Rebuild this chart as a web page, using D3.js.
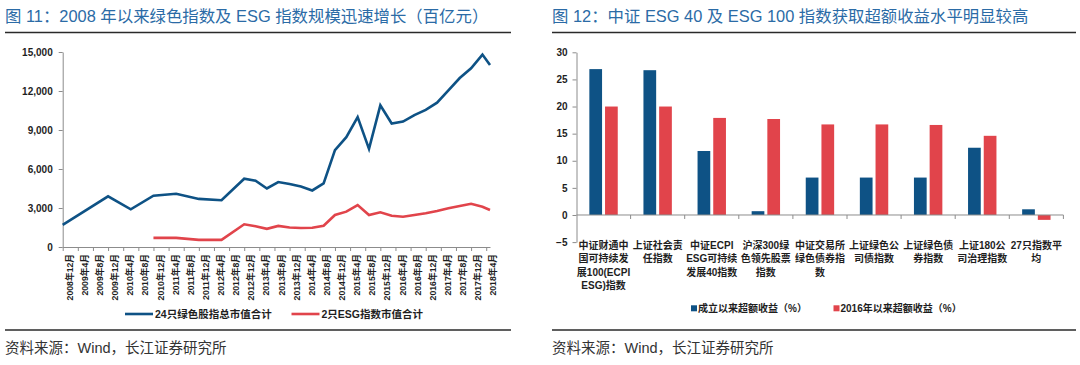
<!DOCTYPE html>
<html><head><meta charset="utf-8">
<script src="https://cdn.jsdelivr.net/npm/d3@7"></script>
<style>
body{margin:0;background:#fff}
svg{display:block}
text{font-family:"Liberation Sans","Noto Sans CJK SC",sans-serif}
</style>
</head><body><svg id="c" width="1080" height="365"></svg>
<script>
// ---------- Left chart data (百亿元) ----------
const dates = ["2008-12","2009-12","2010-06","2010-12","2011-06","2011-12","2012-06","2012-12",
  "2013-03","2013-06","2013-09","2013-12","2014-03","2014-06","2014-09","2014-12",
  "2015-03","2015-06","2015-09","2015-12","2016-03","2016-06","2016-09","2016-12",
  "2017-03","2017-06","2017-09","2017-12","2018-03","2018-05"];
const greenTotal = [1700,3900,2900,3950,4100,3700,3600,5250,5100,4500,5000,4850,4650,4350,4900,7450,
  8450,10000,7550,10900,9500,9650,10150,10550,11100,12050,13000,13750,14800,14000];
const esgTotal = [null,null,null,700,700,550,550,1750,1600,1400,1620,1500,1460,1480,1640,2460,
  2720,3230,2460,2670,2410,2330,2460,2590,2770,2980,3150,3330,3100,2850];
const xTickLabels = ["2008年12月","2009年4月","2009年8月","2009年12月","2010年4月","2010年8月","2010年12月",
  "2011年4月","2011年8月","2011年12月","2012年4月","2012年8月","2012年12月","2013年4月","2013年8月",
  "2013年12月","2014年4月","2014年8月","2014年12月","2015年4月","2015年8月","2015年12月","2016年4月",
  "2016年8月","2016年12月","2017年4月","2017年8月","2017年12月","2018年4月"];
const yTicksLeft = [0,3000,6000,9000,12000,15000];
const leftSeriesNames = ["24只绿色股指总市值合计","2只ESG指数市值合计"];

// ---------- Right chart data (%) ----------
const barCategories = [
  ["中证财通中","国可持续发","展100(ECPI","ESG)指数"],
  ["上证社会责","任指数"],
  ["中证ECPI","ESG可持续","发展40指数"],
  ["沪深300绿","色领先股票","指数"],
  ["中证交易所","绿色债券指","数"],
  ["上证绿色公","司债指数"],
  ["上证绿色债","券指数"],
  ["上证180公","司治理指数"],
  ["27只指数平","均"]];
const sinceInception = [26.9,26.7,11.8,0.7,6.9,6.9,6.9,12.4,1.05];
const since2016 = [20.0,20.0,17.9,17.7,16.7,16.7,16.6,14.6,-0.9];
const yTicksRight = [-5,0,5,10,15,20,25,30];
const rightSeriesNames = ["成立以来超额收益（%）","2016年以来超额收益（%）"];

const BLUE = "#0e5285", RED = "#e1444b", AXIS = "#8c8c8c", TXT = "#1e1e1e";
const svg = d3.select("#c");
svg.append("rect").attr("width",1080).attr("height",365).attr("fill","#fff");

// ---------- Titles / rules / sources ----------
const titles = [
  {x:5, text:"图 11：2008 年以来绿色指数及 ESG 指数规模迅速增长（百亿元）", r:[5,511]},
  {x:552, text:"图 12：中证 ESG 40 及 ESG 100 指数获取超额收益水平明显较高", r:[552,1076]}];
titles.forEach(t=>{
  svg.append("text").attr("x",t.x).attr("y",22).attr("fill","#2b6ba6")
    .style("font-size","16.4px").text(t.text);
  svg.append("line").attr("x1",t.r[0]).attr("x2",t.r[1]).attr("y1",32.5).attr("y2",32.5)
    .attr("stroke","#2a2a2a").attr("stroke-width",1.5);
  svg.append("line").attr("x1",t.r[0]).attr("x2",t.r[1]).attr("y1",330).attr("y2",330)
    .attr("stroke","#2a2a2a").attr("stroke-width",1.5);
  svg.append("text").attr("x",t.x).attr("y",353).attr("fill","#333")
    .style("font-size","14.5px").text("资料来源：Wind，长江证券研究所");
});

// ---------- Left chart ----------
const mIdx = s => { const m = s.match(/(\d{4})\D+(\d{1,2})/); return (+m[1]-2008)*12 + (+m[2]-12); };
const xL = d3.scaleLinear().domain([0, mIdx(dates[dates.length-1])]).range([62.7, 490]);
const yL = d3.scaleLinear().domain([0,15000]).range([247,52]);

const gyL = svg.append("g").attr("transform","translate(62.7,0)")
  .call(d3.axisLeft(yL).tickValues(yTicksLeft).tickSize(4).tickSizeOuter(0).tickFormat(d3.format(",")));
gyL.select(".domain").attr("stroke",AXIS);
gyL.selectAll(".tick line").attr("stroke",AXIS);
gyL.selectAll(".tick text").attr("x",-10).attr("fill",TXT)
  .style("font-size","10px").style("font-weight","bold").style("font-family","Liberation Sans");

const gxL = svg.append("g").attr("transform","translate(0,247)")
  .call(d3.axisBottom(xL).tickValues(xTickLabels.map(mIdx)).tickSize(4).tickSizeOuter(0)
    .tickFormat((d,i)=>xTickLabels[i]));
gxL.select(".domain").attr("stroke",AXIS);
gxL.selectAll(".tick line").attr("stroke",AXIS);
gxL.selectAll(".tick text").attr("transform","rotate(-90)").attr("x",-7).attr("y",6.6)
  .attr("dy","0.35em").style("text-anchor","end").attr("fill",TXT)
  .style("font-size","8.7px").style("font-weight","bold");

const lineGen = d3.line().defined(d=>d.v!=null).x(d=>xL(mIdx(d.d))).y(d=>yL(d.v));
[[greenTotal,BLUE],[esgTotal,RED]].forEach(([vals,col])=>{
  svg.append("path").datum(dates.map((d,i)=>({d, v:vals[i]})))
    .attr("d",lineGen).attr("fill","none").attr("stroke",col).attr("stroke-width",2.6)
    .attr("stroke-linejoin","miter");
});

// left legend
const legL = [{x:125, c:BLUE, t:leftSeriesNames[0]},{x:291.5, c:RED, t:leftSeriesNames[1]}];
legL.forEach(l=>{
  svg.append("line").attr("x1",l.x).attr("x2",l.x+28).attr("y1",314).attr("y2",314)
    .attr("stroke",l.c).attr("stroke-width",2.6);
  svg.append("text").attr("x",l.x+30).attr("y",317.8).attr("fill",TXT)
    .style("font-size","10.5px").style("font-weight","bold").text(l.t);
});

// ---------- Right chart ----------
const yR = d3.scaleLinear().domain([-5,30]).range([242.1,52.3]);
const x0 = d3.scaleBand().domain(d3.range(barCategories.length)).range([576.5,1063.4]).padding(0);
const x1 = d3.scaleBand().domain([0,1]).range([0,28.4]).paddingInner(0.19).paddingOuter(0);
const grpOff = (x0.bandwidth()-28.4)/2;

const gyR = svg.append("g").attr("transform","translate(576.5,0)")
  .call(d3.axisLeft(yR).tickValues(yTicksRight).tickSize(4).tickSizeOuter(0));
gyR.select(".domain").attr("stroke",AXIS);
gyR.selectAll(".tick line").attr("stroke",AXIS);
gyR.selectAll(".tick text").attr("x",-9).attr("fill",TXT)
  .style("font-size","10px").style("font-weight","bold").style("font-family","Liberation Sans");

const seriesR = [sinceInception, since2016];
const colsR = [BLUE, RED];
seriesR.forEach((vals,s)=>{
  svg.append("g").selectAll("rect").data(vals).join("rect")
    .attr("x",(d,i)=>x0(i)+grpOff+x1(s))
    .attr("width",x1.bandwidth())
    .attr("y",d=>yR(Math.max(0,d)))
    .attr("height",d=>Math.abs(yR(d)-yR(0)))
    .attr("fill",colsR[s]);
});

// zero axis with category ticks
const edges = d3.range(barCategories.length+1).map(i=>576.5 + i*x0.step());
svg.append("line").attr("x1",576.5).attr("x2",1063.4).attr("y1",yR(0)).attr("y2",yR(0))
  .attr("stroke",AXIS);
svg.append("g").selectAll("line").data(edges.slice(1)).join("line")
  .attr("x1",d=>d).attr("x2",d=>d).attr("y1",yR(0)).attr("y2",yR(0)+4).attr("stroke",AXIS);

// category labels
const catG = svg.append("g");
barCategories.forEach((lines,i)=>{
  const t = catG.append("text").attr("fill",TXT).style("font-size","10px").style("font-weight","bold")
    .attr("text-anchor","middle");
  lines.forEach((ln,j)=>{
    t.append("tspan").attr("x",x0(i)+x0.bandwidth()/2).attr("y",249+j*13.3).text(ln);
  });
});

// right legend
const legR = [{x:691, c:BLUE, t:rightSeriesNames[0]},{x:833.5, c:RED, t:rightSeriesNames[1]}];
legR.forEach(l=>{
  svg.append("rect").attr("x",l.x).attr("y",305.3).attr("width",6).attr("height",6).attr("fill",l.c);
  svg.append("text").attr("x",l.x+7).attr("y",312).attr("fill",TXT)
    .style("font-size","10px").style("font-weight","bold").text(l.t);
});
</script>
</body></html>
